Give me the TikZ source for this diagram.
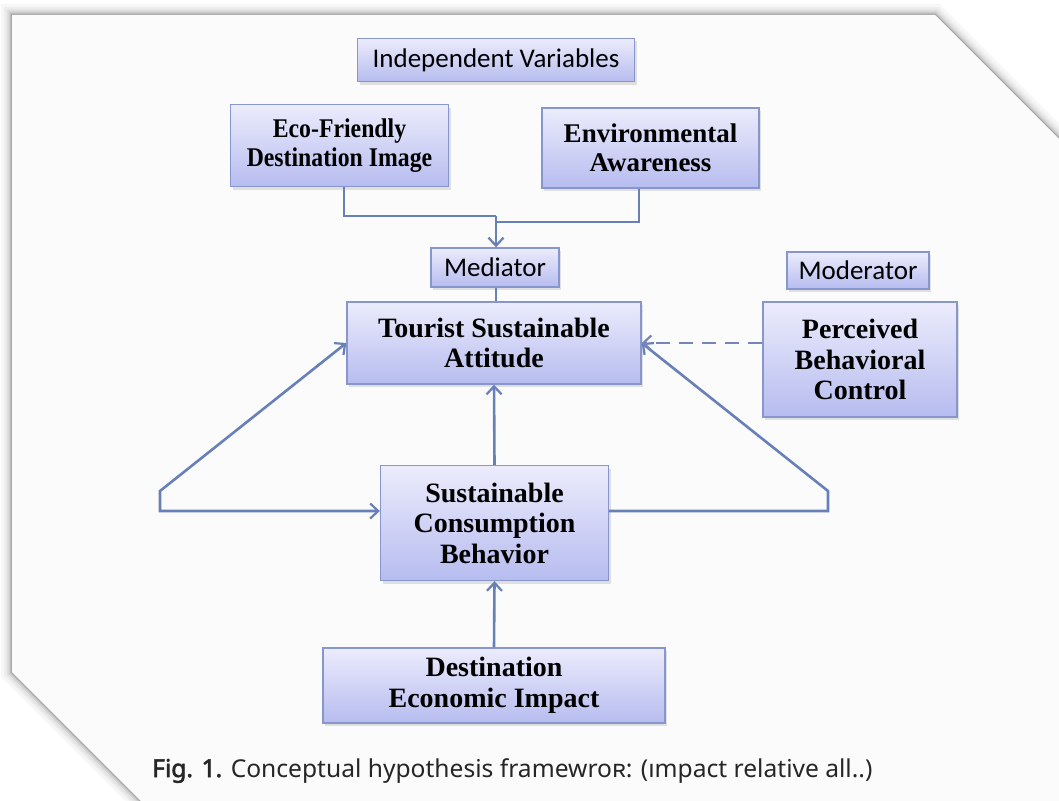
\documentclass[tikz,border=0pt]{standalone}
\usepackage{fontspec}
\usepackage{graphicx}
\newfontfamily\boxfont{Liberation Serif}
\newfontfamily\labelfont{Carlito}
\newfontfamily\capfont{Noto Sans}
\newfontfamily\capboldfont[FakeBold=2.2]{Noto Sans}
\newcommand\narrowtext[1]{\scalebox{0.88}[1]{#1}}
\usetikzlibrary{arrows.meta,shadows}

\definecolor{linec}{RGB}{104,128,186}
\definecolor{dashc}{RGB}{118,134,184}
\definecolor{boxtop}{RGB}{236,236,252}
\definecolor{boxbot}{RGB}{182,188,239}
\definecolor{boxedge}{RGB}{136,150,206}
\definecolor{pagec}{RGB}{251,251,251}

\begin{document}
\begin{tikzpicture}[x=1pt,y=-1pt,
  box/.style={draw=boxedge, line width=1.4pt, top color=boxtop, bottom color=boxbot,
    align=center, inner sep=0pt, text=black,
    font=\boxfont\bfseries\fontsize{28}{30.5}\selectfont,
    drop shadow={shadow xshift=2pt,shadow yshift=-3pt,opacity=0.22}},
  tag/.style={box, font=\labelfont\fontsize{27}{30}\selectfont},
  link/.style={draw=linec, line width=2.6pt, line join=miter},
  barb/.tip={Straight Barb[length=8pt,width=15pt,line width=2.2pt]},
  tip/.style={-barb},
  tips/.style={barb-barb}
]
% canvas and page sheet with a soft edge shadow
\useasboundingbox (0,0) rectangle (1059,800);
\fill[white] (0,0) rectangle (1059,800);
\begin{scope}
  \clip (0,0) rectangle (1059,800);
  \foreach \w/\o in {22/0.03,16/0.04,11/0.05,7/0.07,4/0.09,2/0.12}
    \draw[black, opacity=\o, line width=\w pt, line join=miter]
      (12,15) -- (935,15) -- (1110,190) -- (1110,860) -- (200,860) -- (12,672) -- cycle;
  \fill[pagec] (12,15) -- (935,15) -- (1110,190) -- (1110,860) -- (200,860) -- (12,672) -- cycle;
\end{scope}

% nodes
\node[tag, minimum width=277, minimum height=43] (iv) at (496,60) {Independent Variables};
\node[box, minimum width=218, minimum height=82, font=\boxfont\bfseries\fontsize{27}{29}\selectfont]
  (eco) at (339.5,145.5) {\narrowtext{Eco-Friendly}\\\narrowtext{Destination Image}};
\node[box, minimum width=217, minimum height=80, font=\boxfont\bfseries\fontsize{27}{29}\selectfont]
  (env) at (650.5,148) {Environmental\\Awareness};
\node[tag, minimum width=128, minimum height=39] (med) at (495,267.5) {Mediator};
\node[box, minimum width=294, minimum height=82] (tsa) at (494,343) {Tourist Sustainable\\Attitude};
\node[tag, minimum width=142, minimum height=37] (mod) at (858,270.5) {Moderator};
\node[box, minimum width=194, minimum height=115] (pbc) at (860,359.5) {Perceived\\Behavioral\\Control};
\node[box, minimum width=228, minimum height=115] (scb) at (494.5,523) {Sustainable\\Consumption\\Behavior};
\node[box, minimum width=342, minimum height=75] (dei) at (494,685.5) {Destination\\Economic Impact};

% bend points
\coordinate (ebend) at (344,216);
\coordinate (vbend) at (639,222);
\coordinate (jn) at (496,216);
\coordinate (la) at (160,491);
\coordinate (lb) at (160,511);
\coordinate (ra) at (828,491);
\coordinate (rb) at (828,511);

% connectors
\draw[link] (eco.south -| ebend) |- (jn);
\draw[link] (env.south -| vbend) |- (jn |- vbend);
\draw[link,tip] (jn) -- (jn |- med.north);
\draw[link] (med.south -| jn) -- (tsa.north -| jn);
\draw[link,tip] (scb.north) -- (tsa.south);
\draw[link,tip] (dei.north) -- (scb.south);
\draw[link,tips] (tsa.west) -- (la) -- (lb) -- (scb.west |- lb);
\draw[link,tip] (scb.east |- rb) -- (rb) -- (ra) -- (tsa.east);
\draw[link, draw=dashc, dash pattern=on 14pt off 9pt, tip] (pbc.west |- tsa.east) -- (tsa.east);

% caption
\node[font=\capfont\fontsize{24.6}{30}\selectfont, text=black!85, anchor=base west, inner sep=0pt]
  (cap) at (152,777) {{\capboldfont Fig. 1.} Conceptual hypothesis framewroʀ: (ımpact relative all..)};
\end{tikzpicture}
\end{document}
